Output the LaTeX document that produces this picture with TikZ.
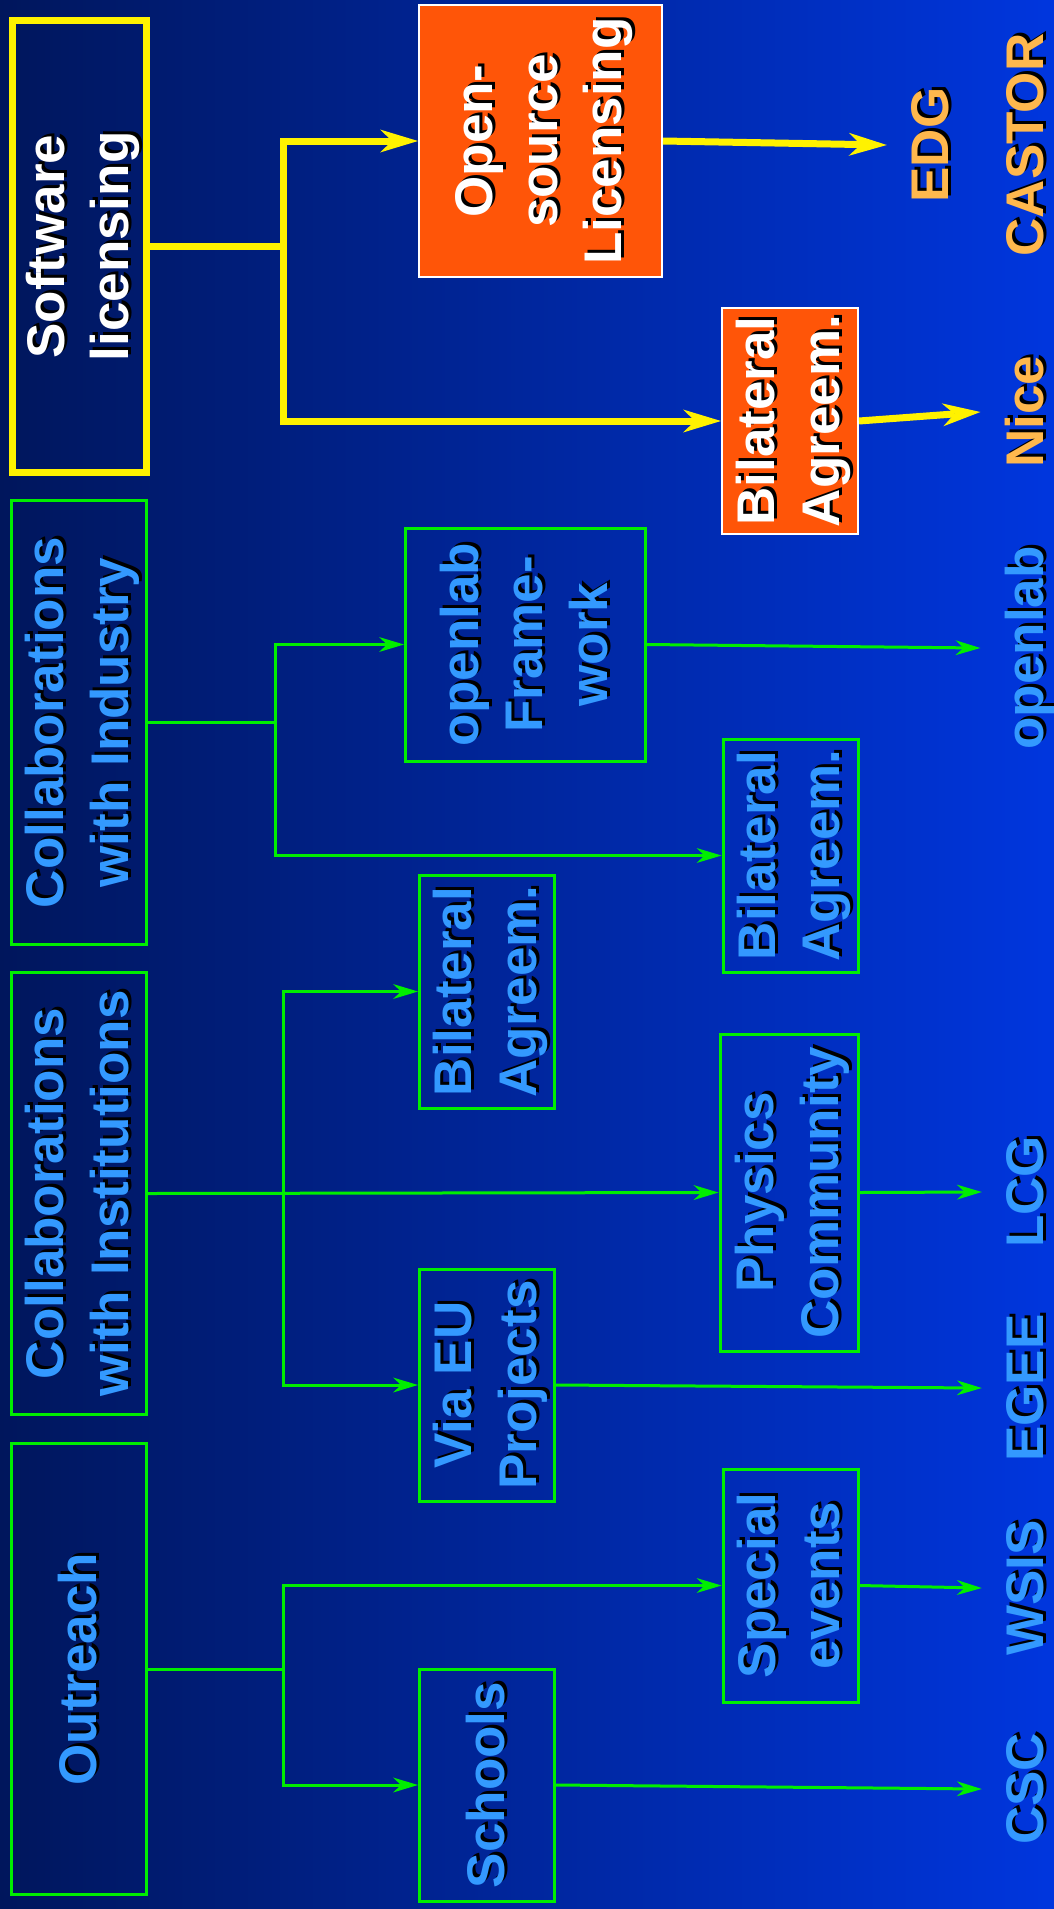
\documentclass[tikz,border=0pt]{standalone}
\usepackage{fontspec}
\usepackage{graphicx}
\setmainfont{Liberation Sans}
\usetikzlibrary{arrows.meta}
\definecolor{navyleft}{RGB}{0,22,92}
\definecolor{blueright}{RGB}{0,54,222}
\definecolor{skytext}{RGB}{51,153,255}
\definecolor{labelorange}{RGB}{255,184,77}
\definecolor{boxorange}{RGB}{255,85,8}
\definecolor{linegreen}{RGB}{0,238,0}
% text with a drop shadow
\newcommand{\shd}[1]{\rlap{\kern3pt\raisebox{-3pt}{\color{black}#1}}#1}

\begin{document}
\begin{tikzpicture}[x=1pt,y=-1pt,font=\fontsize{53}{64.5}\selectfont\bfseries,
  greenbox/.style={rotate=90,align=center,inner sep=0pt,text depth=4pt,draw=linegreen,line width=3pt,text=skytext},
  yellowbox/.style={greenbox,draw=yellow,line width=7pt,text=white},
  orangebox/.style={greenbox,draw=white,line width=2pt,fill=boxorange,text=white},
  target/.style={rotate=90,anchor=base,inner sep=24pt,text=skytext},
  greenline/.style={draw=linegreen,line width=3pt},
  greenarrow/.style={greenline,-{Stealth[length=25pt,width=15pt,inset=8pt,line width=0pt]}},
  yellowline/.style={draw=yellow,line width=7pt},
  yellowarrow/.style={yellowline,-{Stealth[length=38pt,width=23pt,inset=12pt,line width=0pt]}}]
\shade[left color=navyleft,right color=blueright] (0,0) rectangle (1054,1909);
\useasboundingbox (0,0) rectangle (1054,1909);

% first column
\node[yellowbox,minimum width=452pt,minimum height=134pt] (soft) at (79.5,246.5) {\shd{Software}\\\shd{licensing}};
\node[greenbox,minimum width=444pt,minimum height=135pt] (indus) at (79,722.5) {\shd{Collaborations}\\\shd{with Industry}};
\node[greenbox,minimum width=442pt,minimum height=135pt] (inst) at (79,1193.5) {\shd{Collaborations}\\\shd{with Institutions}};
\node[greenbox,minimum width=451pt,minimum height=135pt] (outr) at (79,1669) {\shd{Outreach}};

% second column
\node[orangebox,minimum width=272pt,minimum height=243pt] (opensrc) at (540.5,141) {\shd{Open-}\\\shd{source}\\\shd{Licensing}};
\node[orangebox,minimum width=226pt,minimum height=136pt] (bilsw) at (790,421) {\shd{Bilateral}\\\shd{Agreem.}};
\node[greenbox,minimum width=233pt,minimum height=240pt] (openlab) at (525.5,644.5) {\shd{openlab}\\\shd{Frame-}\\\shd{work}};
\node[greenbox,minimum width=233pt,minimum height=135pt] (bilind) at (790.5,855.5) {\shd{Bilateral}\\\shd{Agreem.}};
\node[greenbox,minimum width=233pt,minimum height=135pt] (bilinst) at (487,991.5) {\shd{Bilateral}\\\shd{Agreem.}};
\node[greenbox,minimum width=317pt,minimum height=138pt] (physics) at (789,1192.5) {\shd{Physics}\\\shd{Community}};
\node[greenbox,minimum width=232pt,minimum height=135pt] (viaeu) at (487,1385) {\shd{Via EU}\\\shd{Projects}};
\node[greenbox,minimum width=233pt,minimum height=135pt] (special) at (790.5,1585.5) {\shd{Special}\\\shd{events}};
\node[greenbox,minimum width=232pt,minimum height=135pt] (schools) at (487,1785) {\shd{Schools}};

% targets on the right
\node[target,text=labelorange] (edg) at (948,145) {\shd{EDG}};
\node[target,text=labelorange] (castor) at (1043,145) {\shd{CASTOR}};
\node[target,text=labelorange] (nice) at (1043,412) {\shd{Nice}};
\node[target] (lopenlab) at (1043,648) {\shd{openlab}};
\node[target] (lcg) at (1043,1192) {\shd{LCG}};
\node[target] (egee) at (1043,1388) {\shd{EGEE}};
\node[target] (wsis) at (1043,1588) {\shd{WSIS}};
\node[target] (csc) at (1043,1789) {\shd{CSC}};

% software licensing
\coordinate (swfork) at (283,246.5);
\draw[yellowline] (soft.south) -- (swfork);
\draw[yellowarrow] (swfork) |- (opensrc.north);
\draw[yellowarrow] (swfork) |- (bilsw.north);
\draw[yellowarrow] (opensrc.south) -- (edg.north);
\draw[yellowarrow] (bilsw.south) -- (nice.north);

% industry
\coordinate (indfork) at (275,722.5);
\draw[greenline] (indus.south) -- (indfork);
\draw[greenarrow] (indfork) |- (openlab.north);
\draw[greenarrow] (indfork) |- (bilind.north);
\draw[greenarrow] (openlab.south) -- (lopenlab.north);

% institutions
\coordinate (instfork) at (283,1193.5);
\draw[greenarrow] (inst.south) -- (physics.north);
\draw[greenarrow] (instfork) |- (bilinst.north);
\draw[greenarrow] (instfork) |- (viaeu.north);
\draw[greenarrow] (physics.south) -- (lcg.north);
\draw[greenarrow] (viaeu.south) -- (egee.north);

% outreach
\coordinate (outfork) at (283,1669);
\draw[greenline] (outr.south) -- (outfork);
\draw[greenarrow] (outfork) |- (special.north);
\draw[greenarrow] (outfork) |- (schools.north);
\draw[greenarrow] (special.south) -- (wsis.north);
\draw[greenarrow] (schools.south) -- (csc.north);
\end{tikzpicture}
\end{document}
